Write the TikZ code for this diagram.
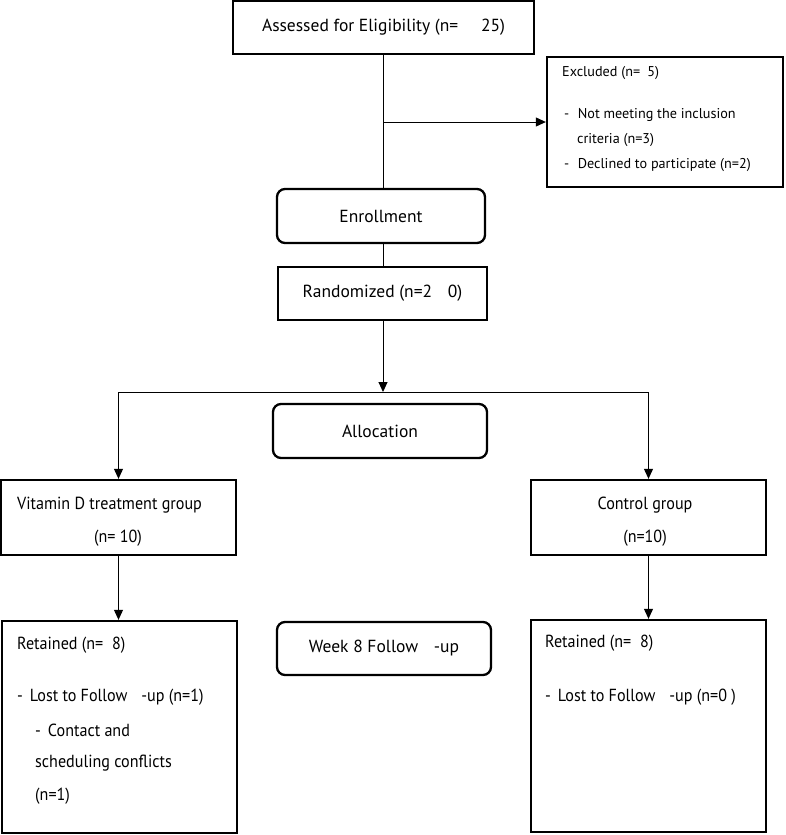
\documentclass[tikz,border=0pt]{standalone}
\usepackage{fontspec}
\setmainfont{PT Sans}
\newfontfamily\narrowfont[FakeStretch=0.92]{PT Sans}
\usetikzlibrary{arrows.meta}
\tikzset{
  box/.style={draw,line width=2.3pt,inner sep=0pt,font=\fontsize{17.5}{20}\selectfont},
  roundbox/.style={box,rounded corners=8pt},
  boxsize/.style 2 args={minimum width=#1pt,minimum height=#2pt},
  txt/.style={inner sep=0pt,anchor=west,font=\fontsize{14.2}{17}\selectfont},
  grouptxt/.style={inner sep=0pt,font=\narrowfont\fontsize{17.5}{20}\selectfont},
  line/.style={line width=0.9pt}
}
\begin{document}
\begin{tikzpicture}[x=1pt,y=-1pt,>={Triangle[length=10pt,width=9pt]}]
\useasboundingbox (0,0) rectangle (786,835);
% boxes down the middle
\draw (383.5,27.5) node[box,boxsize={301}{53}](assess) {Assessed for Eligibility (n=\hspace{1.3em}25)};
\draw (665,122) node[box,boxsize={236}{130}](excl) {};
\draw (381,216) node[roundbox,boxsize={208}{54}](enrol) {Enrollment};
\draw (382.5,293.5) node[box,boxsize={209}{53}](rand) {Randomized (n=2\hspace{0.9em}0)};
\draw (380,431) node[roundbox,boxsize={214}{54}](alloc) {Allocation};
\draw (384,648.5) node[roundbox,boxsize={214}{53}](week) {Week 8 Follow\hspace{0.9em}-up};
% the two arms
\draw (118.5,517.5) node[box,boxsize={235}{75}](vitd) {};
\draw (648.5,517.5) node[box,boxsize={235}{75}](ctrl) {};
\draw (119.5,727) node[box,boxsize={235}{212}](retd1) {};
\draw (648.5,726) node[box,boxsize={235}{212}](retd2) {};
% texts in the boxes
\node[txt] (exclhead) at (562,73) {Excluded (n=\hspace{0.5em}5)};
\node[txt] (exclone) at (564,115) {-\hspace{0.6em}Not meeting the inclusion};
\node[txt] (excltwo) at (577,140) {criteria (n=3)};
\node[txt] (exclthree) at (564,165) {-\hspace{0.6em}Declined to participate (n=2)};
\node[grouptxt,anchor=west] (vitdname) at (17,505) {Vitamin D treatment group};
\node[grouptxt] (vitdn) at (118,538) {(n= 10)};
\node[grouptxt] (ctrlname) at (645,505) {Control group};
\node[grouptxt] (ctrln) at (645,538) {(n=10)};
\node[grouptxt,anchor=west] (retdone) at (17,645) {Retained (n=\hspace{0.5em}8)};
\node[grouptxt,anchor=west] (lostone) at (17,697) {-\hspace{0.4em}Lost to Follow\hspace{0.8em}-up (n=1)};
\node[grouptxt,anchor=west] (contact) at (35,730) {-\hspace{0.4em}Contact and};
\node[grouptxt,anchor=west] (sched) at (35,763) {scheduling conflicts};
\node[grouptxt,anchor=west] (schedn) at (35,796) {(n=1)};
\node[grouptxt,anchor=west] (retdtwo) at (545,643) {Retained (n=\hspace{0.5em}8)};
\node[grouptxt,anchor=west] (losttwo) at (545,697) {-\hspace{0.4em}Lost to Follow\hspace{0.8em}-up (n=0 )};
% connectors
\coordinate (exclfork) at (383,122);
\coordinate (split) at (383,392);
\draw[line] (assess.south -| exclfork) -- (enrol.north -| exclfork);
\draw[line,->] (exclfork) -- (excl.west);
\draw[line] (enrol.south -| split) -- (rand.north -| split);
\draw[line,->] (rand.south -| split) -- (split);
\draw[line,->] (split) -| (vitd.north);
\draw[line,->] (split) -| (ctrl.north);
\draw[line,->] (vitd.south) -- (vitd.south |- retd1.north);
\draw[line,->] (ctrl.south) -- (ctrl.south |- retd2.north);
\end{tikzpicture}
\end{document}
